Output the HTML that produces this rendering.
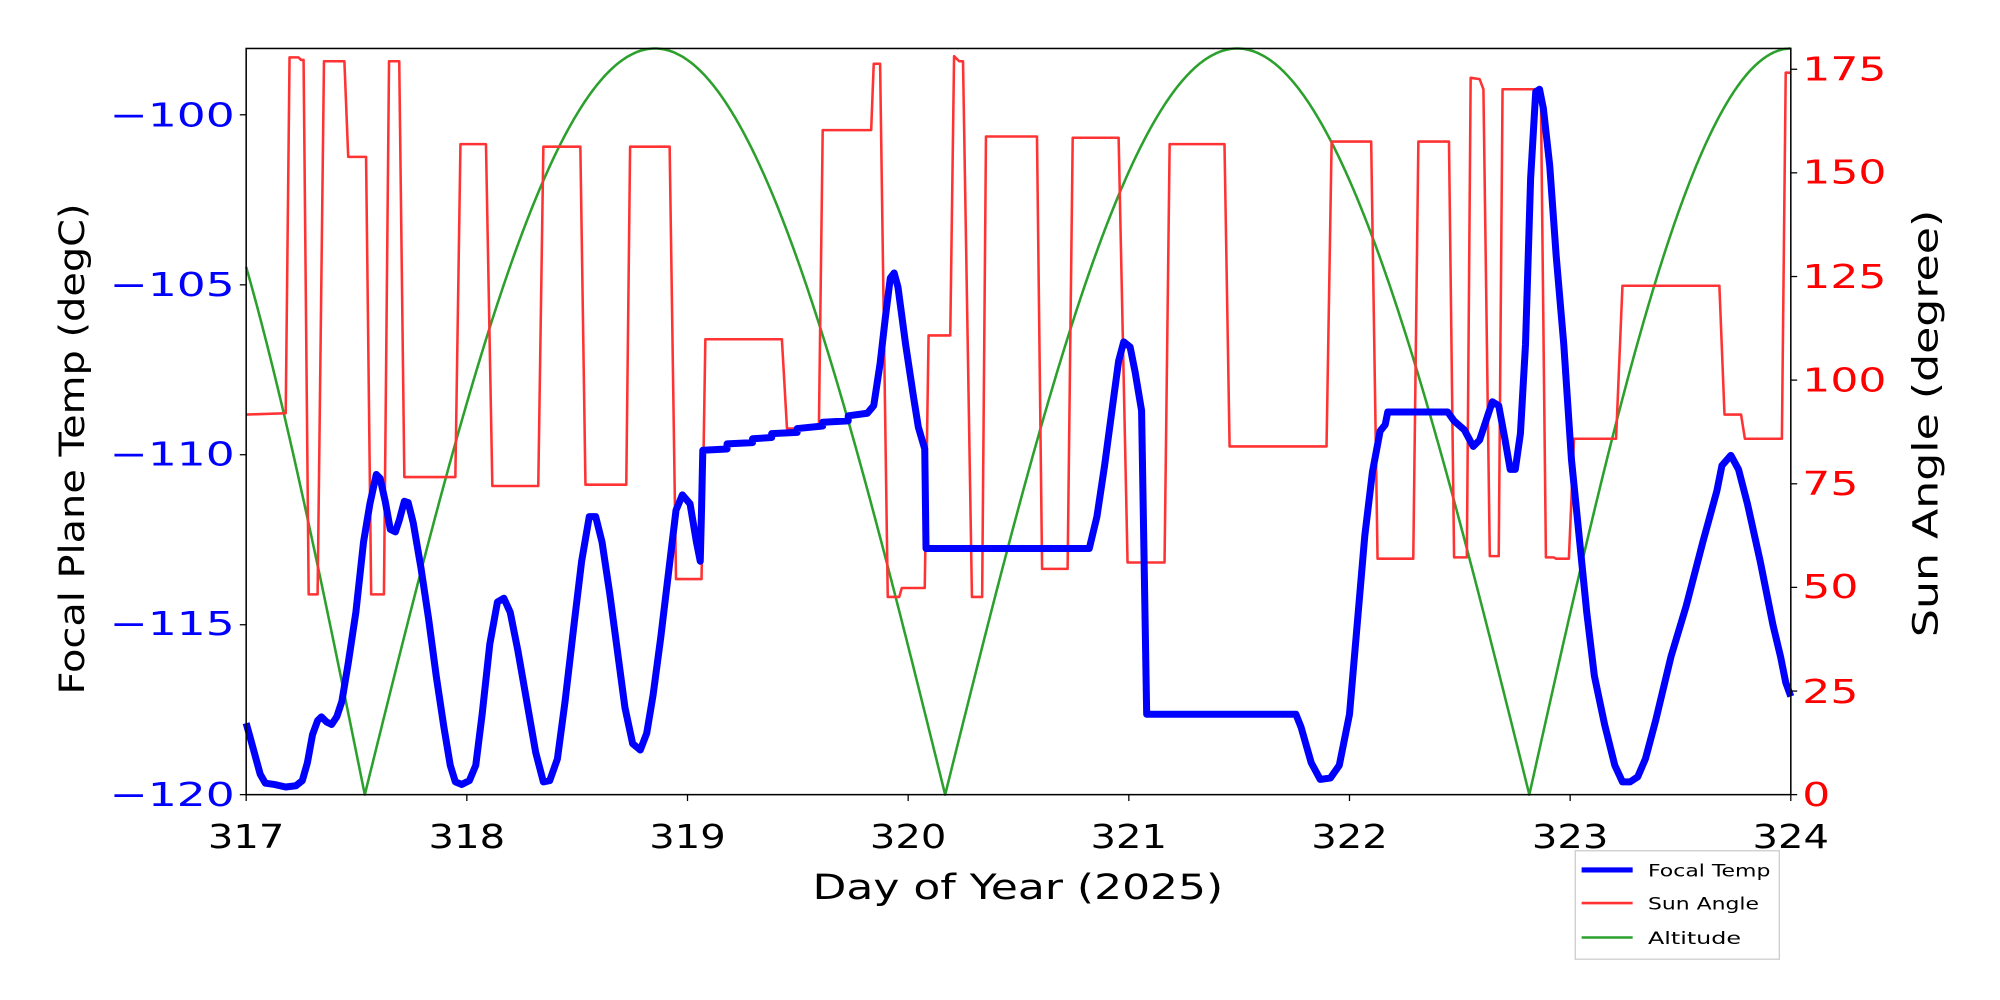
<!DOCTYPE html>
<html><head><meta charset="utf-8"><style>html,body{margin:0;padding:0;background:#fff}svg{display:block}</style></head>
<body>
<svg id="s" xmlns="http://www.w3.org/2000/svg" width="2000" height="1000" viewBox="0 0 1568 784" font-family="DejaVu Sans, Liberation Sans, sans-serif">
<rect width="1568" height="784" fill="#fff"/>
<g id="plot"></g>
<rect x="193" y="38" width="1211" height="585" fill="none" stroke="#000" stroke-width="1.2"/>
<g stroke="#000" stroke-width="1">
<line x1="193" y1="90" x2="188" y2="90"/><line x1="193" y1="223.3" x2="188" y2="223.3"/><line x1="193" y1="356.5" x2="188" y2="356.5"/><line x1="193" y1="489.8" x2="188" y2="489.8"/><line x1="193" y1="623" x2="188" y2="623"/>
<line x1="193" y1="623" x2="193" y2="628"/><line x1="366" y1="623" x2="366" y2="628"/><line x1="539" y1="623" x2="539" y2="628"/><line x1="712" y1="623" x2="712" y2="628"/><line x1="885" y1="623" x2="885" y2="628"/><line x1="1058" y1="623" x2="1058" y2="628"/><line x1="1231" y1="623" x2="1231" y2="628"/><line x1="1404" y1="623" x2="1404" y2="628"/>
<line x1="1404" y1="623" x2="1409" y2="623"/><line x1="1404" y1="541.8" x2="1409" y2="541.8"/><line x1="1404" y1="460.5" x2="1409" y2="460.5"/><line x1="1404" y1="379.3" x2="1409" y2="379.3"/><line x1="1404" y1="298" x2="1409" y2="298"/><line x1="1404" y1="216.8" x2="1409" y2="216.8"/><line x1="1404" y1="135.5" x2="1409" y2="135.5"/><line x1="1404" y1="54.3" x2="1409" y2="54.3"/>
</g>
<g fill="#0000ff" font-size="26" text-anchor="end">
<text x="184" y="99" textLength="98" lengthAdjust="spacingAndGlyphs">−100</text><text x="184" y="232" textLength="98" lengthAdjust="spacingAndGlyphs">−105</text><text x="184" y="365" textLength="98" lengthAdjust="spacingAndGlyphs">−110</text><text x="184" y="498" textLength="98" lengthAdjust="spacingAndGlyphs">−115</text><text x="184" y="632" textLength="98" lengthAdjust="spacingAndGlyphs">−120</text>
</g>
<g fill="#ff0000" font-size="26" text-anchor="start">
<text x="1413" y="632" textLength="22" lengthAdjust="spacingAndGlyphs">0</text><text x="1413" y="551" textLength="44" lengthAdjust="spacingAndGlyphs">25</text><text x="1413" y="469" textLength="44" lengthAdjust="spacingAndGlyphs">50</text><text x="1413" y="388" textLength="44" lengthAdjust="spacingAndGlyphs">75</text><text x="1413" y="307" textLength="66" lengthAdjust="spacingAndGlyphs">100</text><text x="1413" y="226" textLength="66" lengthAdjust="spacingAndGlyphs">125</text><text x="1413" y="144" textLength="66" lengthAdjust="spacingAndGlyphs">150</text><text x="1413" y="63" textLength="66" lengthAdjust="spacingAndGlyphs">175</text>
</g>
<g fill="#000" font-size="26" text-anchor="middle">
<text x="193" y="665" textLength="60" lengthAdjust="spacingAndGlyphs">317</text><text x="366" y="665" textLength="60" lengthAdjust="spacingAndGlyphs">318</text><text x="539" y="665" textLength="60" lengthAdjust="spacingAndGlyphs">319</text><text x="712" y="665" textLength="60" lengthAdjust="spacingAndGlyphs">320</text><text x="885" y="665" textLength="60" lengthAdjust="spacingAndGlyphs">321</text><text x="1058" y="665" textLength="60" lengthAdjust="spacingAndGlyphs">322</text><text x="1231" y="665" textLength="60" lengthAdjust="spacingAndGlyphs">323</text><text x="1404" y="665" textLength="60" lengthAdjust="spacingAndGlyphs">324</text>
</g>
<text x="798" y="705" font-size="27" text-anchor="middle" fill="#000" textLength="322" lengthAdjust="spacingAndGlyphs">Day of Year (2025)</text>
<text transform="translate(66,352) rotate(-90)" font-size="27" text-anchor="middle" fill="#000" textLength="385" lengthAdjust="spacingAndGlyphs">Focal Plane Temp (degC)</text>
<text transform="translate(1519,332) rotate(-90)" font-size="27" text-anchor="middle" fill="#000" textLength="335" lengthAdjust="spacingAndGlyphs">Sun Angle (degree)</text>
<rect x="1235" y="667" width="160" height="85" fill="#fff" stroke="#ccc" stroke-width="1"/>
<line x1="1240" y1="682" x2="1280" y2="682" stroke="#0000ff" stroke-width="4"/>
<line x1="1240" y1="708" x2="1280" y2="708" stroke="#ff3333" stroke-width="2"/>
<line x1="1240" y1="735" x2="1280" y2="735" stroke="#2ca02c" stroke-width="2"/>
<g font-size="13" fill="#000"><text x="1292" y="687" textLength="96" lengthAdjust="spacingAndGlyphs">Focal Temp</text><text x="1292" y="713" textLength="87" lengthAdjust="spacingAndGlyphs">Sun Angle</text><text x="1292" y="740" textLength="73" lengthAdjust="spacingAndGlyphs">Altitude</text></g>
</svg>
<script>
(function(){
var g=document.getElementById('plot');var NS='http://www.w3.org/2000/svg';
function pl(pts,col,w){var p=document.createElementNS(NS,'polyline');p.setAttribute('points',pts.map(function(a){return a[0].toFixed(1)+','+a[1].toFixed(1)}).join(' '));p.setAttribute('fill','none');p.setAttribute('stroke',col);p.setAttribute('stroke-width',w);p.setAttribute('stroke-linejoin','round');g.appendChild(p);}
var alt=[];function dy(d){return 623-d*3.25;}
for(var x=193;x<=1404;x+=1){var d;
if(x<286){d=180*Math.sin((286-x)/186*Math.PI/2);}
else if(x<741){d=180*Math.sin(Math.PI*(x-286)/455);}
else if(x<1199){d=180*Math.sin(Math.PI*(x-741)/458);}
else{d=180*Math.sin(Math.PI*(x-1199)/410);}
alt.push([x,dy(Math.abs(d))]);}
pl(alt,'#2ca02c',2);
var s=[[193,325],[224,324],[227,45],[234,45],[236,47],[238,47],[242,466],[249,466],[254,48],[270,48],[273,123],[287,123],[291,466],[301,466],[305,48],[313,48],[317,374],[357,374],[361,113],[381,113],[386,381],[422,381],[426,115],[455,115],[459,380],[491,380],[494,115],[525,115],[530,454],[550,454],[553,266],[613,266],[617,336],[642,336],[645,102],[683,102],[685,50],[690,50],[696,468],[705,468],[707,461],[725,461],[728,263],[745,263],[748,44],[752,48],[755,48],[762,468],[770,468],[773,107],[813,107],[817,446],[837,446],[841,108],[877,108],[884,441],[913,441],[917,113],[960,113],[964,350],[1040,350],[1044,111],[1075,111],[1080,438],[1108,438],[1112,111],[1136,111],[1140,437],[1150,437],[1153,61],[1160,62],[1163,70],[1168,436],[1175,436],[1178,70],[1185,70],[1208,70],[1212,437],[1218,437],[1220,438],[1230,438],[1234,344],[1267,344],[1272,224],[1348,224],[1352,325],[1365,325],[1368,344],[1397,344],[1400,57],[1404,57]];
pl(s,'#ff3333',2);
var b=[[193,567],[198,585],[204,607],[208,614],[215,615],[224,617],[232,616],[237,612],[241,598],[245,576],[249,565],[252,562],[256,566],[260,568],[264,562],[268,550],[273,520],[279,480],[285,425],[290,395],[295,372],[298,375],[302,393],[306,415],[310,417],[313,408],[317,393],[320,394],[324,410],[330,445],[336,485],[342,530],[348,570],[353,600],[357,613],[362,615],[368,612],[373,600],[378,560],[384,505],[390,472],[395,469],[400,480],[406,510],[413,550],[420,590],[426,613],[431,612],[437,595],[443,550],[450,490],[456,440],[462,405],[467,405],[472,425],[478,465],[484,510],[490,555],[496,583],[502,588],[507,575],[512,545],[518,500],[524,450],[530,400],[535,388],[541,395],[546,425],[549,440],[550,400],[551,353],[570,352],[570,348],[590,347],[590,344],[605,343],[605,340],[625,339],[625,336],[645,334],[645,331],[665,330],[665,326],[680,324],[685,318],[690,285],[694,250],[698,218],[701,214],[704,225],[710,270],[716,310],[720,335],[725,352],[726,430],[854,430],[860,405],[866,365],[872,320],[877,283],[881,268],[886,272],[890,292],[895,322],[899,560],[1016,560],[1020,570],[1028,598],[1035,611],[1043,610],[1050,600],[1058,560],[1064,490],[1070,420],[1076,370],[1082,338],[1086,333],[1088,323],[1135,323],[1140,330],[1148,337],[1155,350],[1160,345],[1165,330],[1170,315],[1175,318],[1180,345],[1184,368],[1188,368],[1192,340],[1196,270],[1200,140],[1204,72],[1207,70],[1210,85],[1215,130],[1220,200],[1226,270],[1232,360],[1238,420],[1244,480],[1250,530],[1258,568],[1266,600],[1272,613],[1278,613],[1284,609],[1290,595],[1298,565],[1310,515],[1322,475],[1335,425],[1346,385],[1350,365],[1357,357],[1363,368],[1370,395],[1380,440],[1390,490],[1396,515],[1400,535],[1404,546]];
pl(b,'#0000ff',5.5);
})();
</script>
</body></html>
